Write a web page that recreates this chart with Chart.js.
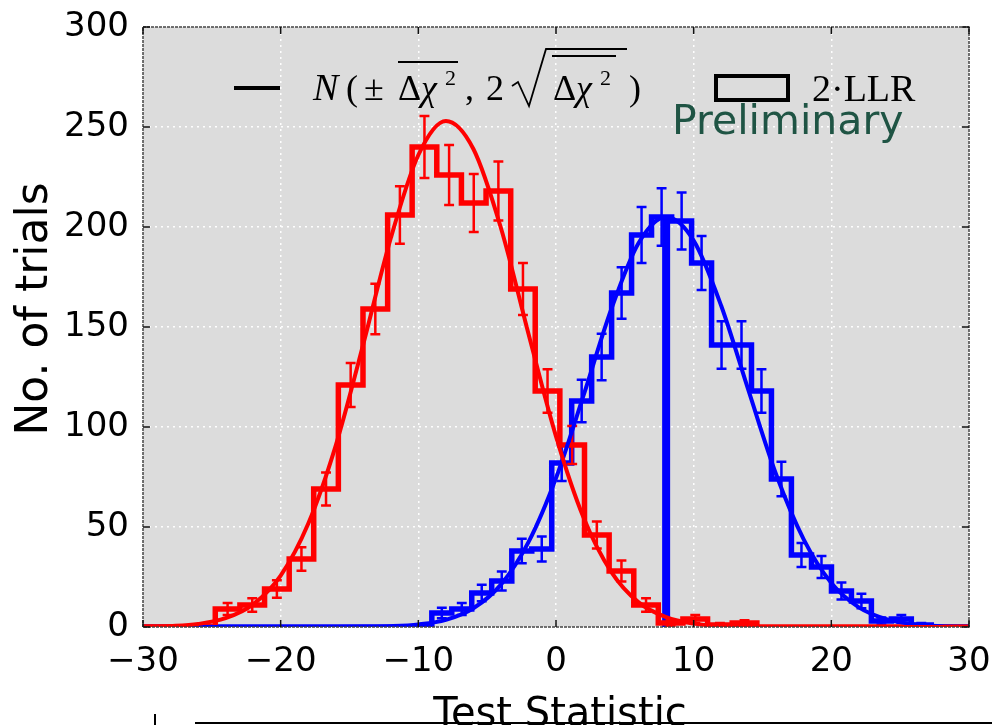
<!DOCTYPE html>
<html>
<head>
<meta charset="utf-8">
<script src="https://cdn.jsdelivr.net/npm/chart.js@4.4.1/dist/chart.umd.min.js"></script>
<style>
html, body { margin: 0; padding: 0; background: #fff; }
#wrap { width: 992px; height: 725px; }
</style>
</head>
<body>
<div id="wrap"><canvas id="statChart" width="992" height="725"></canvas></div>
<script>
// Axis ticks
const xTicks = [-30, -20, -10, 0, 10, 20, 30];
const yTicks = [0, 50, 100, 150, 200, 250, 300];

// Red histogram (2·LLR, first hypothesis)
const redEdges = [-24.75, -22.96, -21.17, -19.38, -17.60, -15.81, -14.02, -12.23, -10.45, -8.66, -6.87, -5.08,
    -3.29, -1.51, 0.28, 2.07, 3.86, 5.65, 7.43, 9.22, 11.01, 12.80, 14.59];
const redCounts = [9, 11, 19, 34, 69, 121, 159, 206, 240, 226, 212, 218, 169, 118, 91, 46, 28, 11, 2, 4, 1, 2];

// Blue histogram (2·LLR, second hypothesis)
const blueEdges = [-9.02, -7.57, -6.12, -4.67, -3.21, -1.76, -0.31, 1.14, 2.59, 4.04, 5.49, 6.94, 8.40,
    9.85, 11.30, 12.75, 14.20, 15.65, 17.10, 18.56, 20.01, 21.46, 22.91, 24.36, 25.81, 27.26];
const blueCounts = [7, 9, 17, 23, 38, 39, 82, 113, 135, 167, 196, 205, 203, 182, 141, 141, 118, 74, 36, 30, 18, 13, 3, 4, 1];

// Gaussian curves
const curveX = [-30, -28, -26, -24, -22, -20, -18, -16, -14, -12, -10, -8, -6, -4, -2, 0, 2, 4, 6, 8, 10, 12, 14, 16, 18, 20, 22, 24, 26, 28, 30];
const redCurve = [0.1, 0.5, 1.5, 4.4, 11.3, 25.7, 51.6, 90.7, 141.4, 194.5, 236, 253, 239, 199.5, 146.6, 95.3, 54.7, 27.7, 12.3, 4.9, 1.7, 0.5, 0.1, 0, 0, 0, 0, 0, 0, 0, 0];
const blueCurve = [0, 0, 0, 0, 0, 0, 0, 0, 0.1, 0.4, 1.3, 3.6, 9.4, 21.2, 42.4, 74.5, 115.8, 158.6, 192, 205, 193.2, 160.6, 117.9, 76.1, 43.7, 22, 9.8, 3.9, 1.3, 0.4, 0.1];

// Observed value
const observedX = [8, 8];
const observedY = [0, 205];

const RED = '#ff0000';
const BLUE = '#0000ff';
const CAP = 0.36; // halbe Breite der Fehlerbalken-Kappe (x-Einheiten)

function stepPoints(edges, counts) {
    const pts = [{ x: -30, y: 0 }];
    counts.forEach((c, i) => pts.push({ x: edges[i], y: c }));
    pts.push({ x: edges[edges.length - 1], y: 0 });
    pts.push({ x: 30, y: 0 });
    return pts;
}

function errorPoints(edges, counts) {
    const pts = [];
    counts.forEach((c, i) => {
        if (c <= 0) return;
        const mid = (edges[i] + edges[i + 1]) / 2;
        const e = Math.sqrt(c);
        pts.push({ x: mid, y: c - e }, { x: mid, y: c + e }, { x: mid, y: null });
        pts.push({ x: mid - CAP, y: c + e }, { x: mid + CAP, y: c + e }, { x: mid, y: null });
        pts.push({ x: mid - CAP, y: c - e }, { x: mid + CAP, y: c - e }, { x: mid, y: null });
    });
    return pts;
}

const toXY = (xs, ys) => xs.map((x, i) => ({ x, y: ys[i] }));

const serif = '"Liberation Serif", "DejaVu Serif", serif';
const sans = '"DejaVu Sans", sans-serif';

const frame = {
    id: 'frame',
    beforeDraw(chart) {
        const { ctx, chartArea: a } = chart;
        ctx.save();
        ctx.fillStyle = '#ffffff';
        ctx.fillRect(0, 0, chart.width, chart.height);
        ctx.fillStyle = '#dcdcdc';
        ctx.fillRect(a.left, a.top, a.right - a.left, a.bottom - a.top);
        ctx.restore();
    },
    afterDatasetsDraw(chart) {
        const { ctx, chartArea: a, scales } = chart;
        ctx.save();
        // Rahmen
        ctx.strokeStyle = '#444';
        ctx.lineWidth = 1.5;
        ctx.setLineDash([3, 1]);
        ctx.strokeRect(a.left, a.top, a.right - a.left, a.bottom - a.top);
        ctx.setLineDash([]);
        // Ticks nach innen
        ctx.strokeStyle = '#111';
        ctx.lineWidth = 1.5;
        ctx.beginPath();
        xTicks.forEach(v => {
            const px = scales.x.getPixelForValue(v);
            ctx.moveTo(px, a.bottom); ctx.lineTo(px, a.bottom - 7);
            ctx.moveTo(px, a.top); ctx.lineTo(px, a.top + 7);
        });
        yTicks.forEach(v => {
            const py = scales.y.getPixelForValue(v);
            ctx.moveTo(a.left, py); ctx.lineTo(a.left + 7, py);
            ctx.moveTo(a.right, py); ctx.lineTo(a.right - 7, py);
        });
        ctx.stroke();

        // Legende: Linie + Formel
        ctx.fillStyle = '#000';
        ctx.strokeStyle = '#000';
        ctx.lineWidth = 4;
        ctx.beginPath();
        ctx.moveTo(234, 88); ctx.lineTo(280, 88);
        ctx.stroke();

        const base = 100;
        const big = '36px ' + serif, ital = 'italic 36px ' + serif, sup = '22px ' + serif;
        ctx.textBaseline = 'alphabetic';
        ctx.textAlign = 'left';
        const t = (s, x, f, dy = 0) => { ctx.font = f; ctx.fillText(s, x, base + dy); };
        t('N', 313, 'italic 38px ' + serif);
        t('(', 346, big);
        t('±', 364, big);
        t('Δ', 398, big);
        t('χ', 421, ital);
        t('2', 445, sup, -15);
        t(',', 465, big);
        t('2', 486, big);
        t('Δ', 553, big);
        t('χ', 576, ital);
        t('2', 600, sup, -15);
        t(')', 629, big);
        ctx.lineWidth = 2;
        ctx.beginPath();
        ctx.moveTo(398, 62); ctx.lineTo(458, 62);
        ctx.moveTo(552, 56); ctx.lineTo(616, 56);
        ctx.stroke();
        // Wurzelzeichen
        ctx.lineWidth = 1.8;
        ctx.beginPath();
        ctx.moveTo(512, 86); ctx.lineTo(518, 82);
        ctx.lineTo(529, 106); ctx.lineTo(546, 49); ctx.lineTo(627, 49);
        ctx.stroke();

        ctx.lineWidth = 4;
        ctx.strokeRect(716, 76, 72, 24);
        ctx.font = '38px ' + serif;
        ctx.fillText('2·LLR', 812, 101);

        ctx.fillStyle = '#1f5444';
        ctx.font = '41px ' + sans;
        ctx.fillText('Preliminary', 672, 134);

        // Achsentitel
        ctx.fillStyle = '#000';
        ctx.font = '40px ' + sans;
        ctx.textAlign = 'center';
        ctx.fillText('Test Statistic', 560, 726);
        ctx.save();
        ctx.translate(47, 309);
        ctx.rotate(-Math.PI / 2);
        ctx.font = '44px ' + sans;
        ctx.fillText('No. of trials', 0, 0);
        ctx.restore();
        ctx.restore();
    },
    afterDraw(chart) {
        const { ctx } = chart;
        ctx.save();
        ctx.strokeStyle = '#000';
        ctx.lineWidth = 2;
        ctx.beginPath();
        ctx.moveTo(155, 714); ctx.lineTo(155, 725);
        ctx.moveTo(195, 723); ctx.lineTo(992, 723);
        ctx.stroke();
        ctx.restore();
    }
};

const tickFont = { family: sans, size: 34 };

new Chart(document.getElementById('statChart'), {
    type: 'line',
    data: {
        datasets: [
            { label: 'observed', data: toXY(observedX, observedY), borderColor: BLUE, borderWidth: 8, order: 6 },
            { label: 'red curve', data: toXY(curveX, redCurve), borderColor: RED, borderWidth: 4, cubicInterpolationMode: 'monotone', order: 1 },
            { label: 'blue curve', data: toXY(curveX, blueCurve), borderColor: BLUE, borderWidth: 4, cubicInterpolationMode: 'monotone', order: 2 },
            { label: 'red hist', data: stepPoints(redEdges, redCounts), borderColor: RED, borderWidth: 5.5, stepped: true, order: 3 },
            { label: 'blue hist', data: stepPoints(blueEdges, blueCounts), borderColor: BLUE, borderWidth: 5.5, stepped: true, order: 4 },
            { label: 'red err', data: errorPoints(redEdges, redCounts), borderColor: RED, borderWidth: 2.5, order: 3 },
            { label: 'blue err', data: errorPoints(blueEdges, blueCounts), borderColor: BLUE, borderWidth: 2.5, order: 4 }
        ]
    },
    options: {
        responsive: false,
        animation: false,
        devicePixelRatio: 1,
        layout: { padding: { top: 27, right: 23, left: 0, bottom: 0 }, autoPadding: false },
        elements: { point: { radius: 0, hoverRadius: 0 }, line: { fill: false, borderJoinStyle: 'miter' } },
        plugins: { legend: { display: false }, tooltip: { enabled: false } },
        scales: {
            x: {
                type: 'linear', min: -30, max: 30,
                afterBuildTicks: s => { s.ticks = xTicks.map(v => ({ value: v })); },
                afterFit: s => { s.height = 98; s.paddingLeft = 0; s.paddingRight = 0; },
                grid: { color: 'rgba(255,255,255,0.95)', lineWidth: 1.5, drawTicks: false },
                border: { display: false, dash: [2, 4] },
                ticks: {
                    font: tickFont, color: '#000', padding: 15, maxRotation: 0, autoSkip: false,
                    callback: v => String(v).replace('-', '\u2212')
                },
                title: { display: false, text: 'Test Statistic' }
            },
            y: {
                type: 'linear', min: 0, max: 300,
                afterBuildTicks: s => { s.ticks = yTicks.map(v => ({ value: v })); },
                afterFit: s => { s.width = 143; s.paddingTop = 0; s.paddingBottom = 0; },
                grid: { color: 'rgba(255,255,255,0.95)', lineWidth: 1.5, drawTicks: false },
                border: { display: false, dash: [2, 4] },
                ticks: { font: tickFont, color: '#000', padding: 14, autoSkip: false },
                title: { display: false, text: 'No. of trials' }
            }
        }
    },
    plugins: [frame]
});
</script>
</body>
</html>
